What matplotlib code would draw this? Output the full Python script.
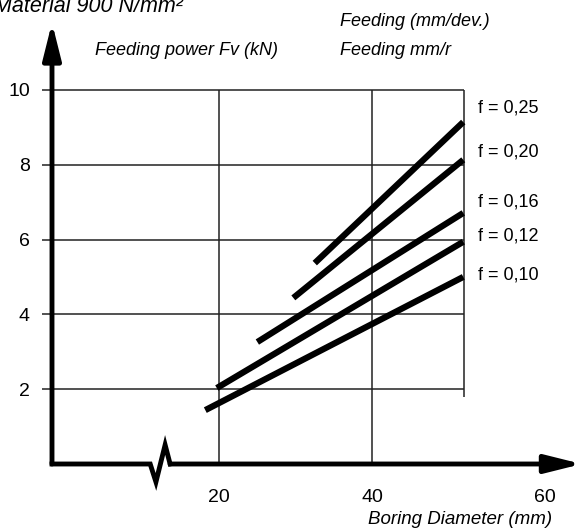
import numpy as np
import matplotlib.pyplot as plt

plt.rcParams['font.family'] = ['Liberation Sans', 'DejaVu Sans']

# Feeding power Fv (kN) vs boring diameter (mm), one line per feed f
feeds = ['0,25', '0,20', '0,16', '0,12', '0,10']
d_start = [32.5, 29.7, 25.0, 19.7, 18.2]
d_end = [51.9, 51.9, 51.9, 51.9, 51.9]
fv_start = [5.37, 4.44, 3.26, 2.03, 1.44]
fv_end = [9.14, 8.13, 6.71, 5.94, 5.00]

y_ticks = [2, 4, 6, 8, 10]
x_grid = [20, 40]
x_border = 52
x_tick_pos = [20, 40, 62.5]
x_tick_labels = ['20', '40', '60']

W, H = 575, 530


def px(x, y):
    # pixel position -> figure fraction
    return x / W, 1 - y / H


fig = plt.figure(figsize=(W / 100, H / 100), dpi=100)
ax = fig.add_axes([52 / W, (H - 464) / H, (W - 52) / W, (464 - 30) / H])
x_left, x_right = -1.83, 66.5
ax.set_xlim(x_left, x_right)
ax.set_ylim(0, 11.6)
for s in ax.spines.values():
    s.set_visible(False)

# сетка
grid_kw = dict(color='#222222', lw=1.1)
ax.hlines(y_ticks, x_left, x_border, **grid_kw)
ax.vlines(x_grid, 0, y_ticks[-1], **grid_kw)
ax.vlines(x_border, 1.8, y_ticks[-1], **grid_kw)

# линии подачи
for ds, de, fs, fe in zip(d_start, d_end, fv_start, fv_end):
    ax.plot([ds, de], [fs, fe], color='black', lw=4.5, solid_capstyle='butt')

# оси со стрелками и разрывом
ax.annotate('', xy=(0, 1.017), xycoords='axes fraction',
            xytext=(x_left, 0), textcoords='data',
            arrowprops=dict(arrowstyle='-|>,head_length=2.2,head_width=0.55',
                            mutation_scale=10, lw=3.5, color='black',
                            shrinkA=0, shrinkB=0))
brk = 12.3
ax.plot([x_left, brk - 1.3, brk - 0.55, brk + 0.65, brk + 1.3],
        [0, 0, -0.48, 0.51, 0], color='black', lw=3.5,
        solid_capstyle='projecting', solid_joinstyle='miter', clip_on=False)
ax.annotate('', xy=(1.013, 0), xycoords='axes fraction',
            xytext=(brk + 1.3, 0), textcoords='data',
            arrowprops=dict(arrowstyle='-|>,head_length=2.2,head_width=0.55',
                            mutation_scale=10, lw=3.5, color='black',
                            shrinkA=0, shrinkB=0))

ax.set_yticks(y_ticks)
ax.set_xticks(x_tick_pos, x_tick_labels)
ax.tick_params(axis='y', length=7, width=1.1, pad=9, labelsize=14, color='#222222')
ax.tick_params(axis='x', length=0, pad=18, labelsize=14)

# подписи
it = dict(fontsize=13, style='italic')
fig.text(*px(183, 12.5), 'Material 900 N/mm²', ha='right', va='baseline',
         fontsize=15.5, style='italic')
fig.text(*px(95, 55), 'Feeding power Fv (kN)', ha='left', va='baseline', **it)
fig.text(*px(340, 26), 'Feeding (mm/dev.)', ha='left', va='baseline', **it)
fig.text(*px(340, 55), 'Feeding mm/r', ha='left', va='baseline', **it)
fig.text(*px(552, 524), 'Boring Diameter (mm)', ha='right', va='baseline',
         fontsize=13.5, style='italic')

label_y = [108, 152, 202, 236, 275]
for f, ly in zip(feeds, label_y):
    fig.text(*px(478, ly), f'f = {f}', ha='left', va='center', fontsize=13)

fig.savefig('out.png', dpi=100)
